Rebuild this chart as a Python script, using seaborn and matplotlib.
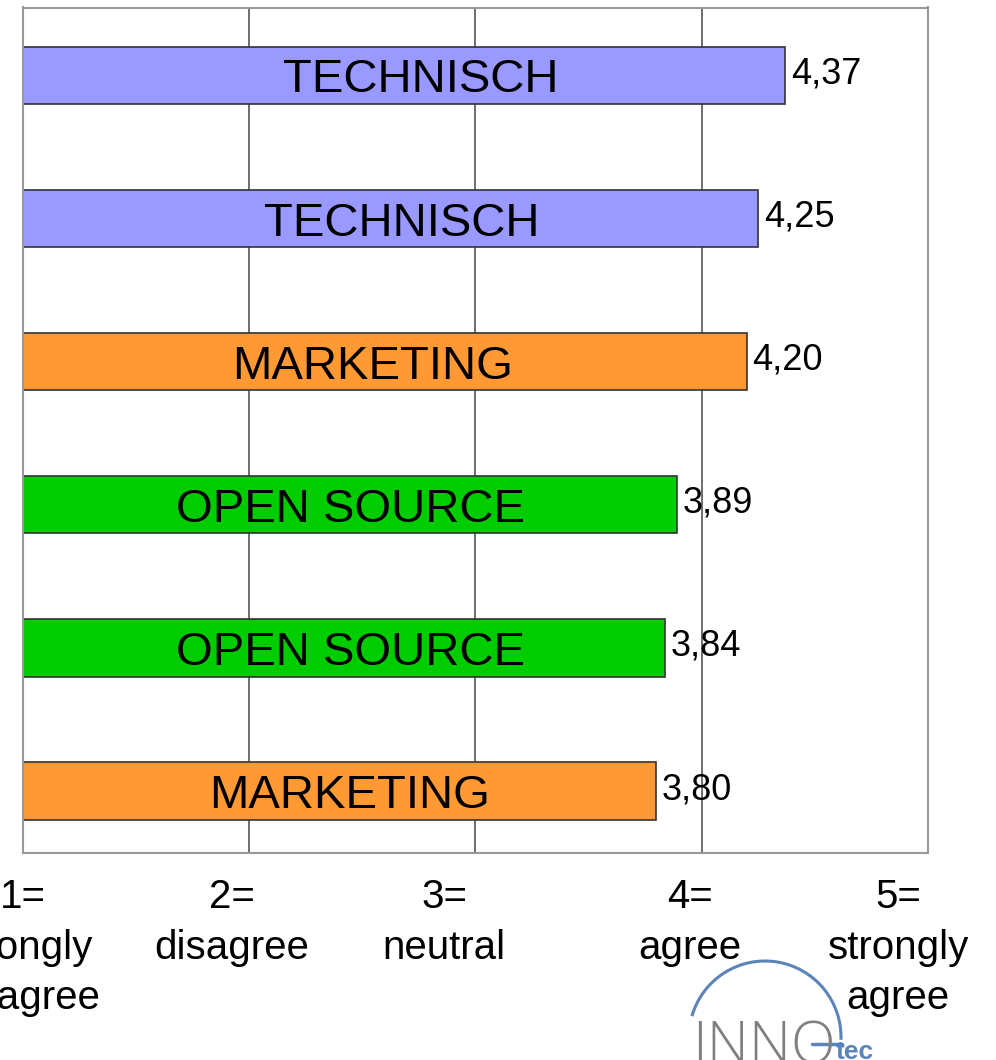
import matplotlib
matplotlib.use("Agg")
import matplotlib.pyplot as plt
from matplotlib.transforms import ScaledTranslation
from matplotlib.patches import Arc
from matplotlib.lines import Line2D
import seaborn as sns
import pandas as pd

# ---- data ----
rows = ["r1", "r2", "r3", "r4", "r5", "r6"]
bar_names = ["TECHNISCH", "TECHNISCH", "MARKETING", "OPEN SOURCE", "OPEN SOURCE", "MARKETING"]
values = [4.37, 4.25, 4.20, 3.89, 3.84, 3.80]
value_labels = ["4,37", "4,25", "4,20", "3,89", "3,84", "3,80"]
bar_colors = ["#9999FF", "#9999FF", "#FF9933", "#00CC00", "#00CC00", "#FF9933"]
name_x = [2.76, 2.674, 2.548, 2.451, 2.451, 2.444]
tick_values = [1, 2, 3, 4, 5]
tick_labels = ["1=\nstrongly\ndisagree", "2=\ndisagree", "3=\nneutral", "4=\nagree", "5=\nstrongly\nagree"]
tick_dx_px = [0, -17, -31, -12, -30]

df = pd.DataFrame({"row": rows, "value": values})

sns.set_theme(style="white")
plt.rcParams["font.family"] = ["Liberation Sans", "DejaVu Sans"]

fig = plt.figure(figsize=(9.96, 10.6), dpi=100)
ax = fig.add_axes([22.5 / 996, 1 - 853 / 1060, (928 - 22.5) / 996, (853 - 7.5) / 1060])

sns.barplot(data=df, x="value", y="row", hue="row", order=rows, hue_order=rows,
            palette=bar_colors, orient="h", width=0.4, legend=False,
            edgecolor="#333333", linewidth=1.2, saturation=1, ax=ax, zorder=2)

# bars start at the scale origin 1
for p in ax.patches:
    w = p.get_width()
    p.set_x(1)
    p.set_width(w - 1)

ax.set_xlim(1, 5)
ax.set_ylim(5.433, -0.475)

# grid
for gx in [2, 3, 4]:
    ax.axvline(gx, color="#555555", lw=1.2, zorder=1)

for s in ax.spines.values():
    s.set_color("#999999")
    s.set_linewidth(1.5)
    s.set_visible(True)

ax.set_xlabel("")
ax.set_ylabel("")
ax.set_yticks([])
ax.set_xticks(tick_values)
ax.set_xticklabels(tick_labels, fontsize=29, linespacing=1.42)
ax.tick_params(axis="x", length=0, pad=18, colors="black")
for lab, dx in zip(ax.get_xticklabels(), tick_dx_px):
    lab.set_transform(lab.get_transform() + ScaledTranslation(dx / 100, 0, fig.dpi_scale_trans))
    lab.set_clip_on(False)

# labels
for i, (nm, v, vl, nx) in enumerate(zip(bar_names, values, value_labels, name_x)):
    ax.text(nx, i + 0.035, nm, ha="center", va="center", fontsize=34, color="black", zorder=3)
    ax.text(v + 0.025, i - 0.01, vl, ha="left", va="center", fontsize=26, color="black", zorder=3)

# logo
fig.add_artist(Arc((765 / 996, 1 - 1037 / 1060), 2 * 76 / 996, 2 * 76 / 1060,
                   theta1=-2, theta2=165, transform=fig.transFigure,
                   color="#5b84b8", lw=2.2))
fig.text(692 / 996, 1 - 1018 / 1060, "INNO", fontsize=42, color="#808080",
         ha="left", va="top", fontweight=300, family=["Open Sans", "Lato", "DejaVu Sans"])
fig.add_artist(Line2D([812 / 996, 842 / 996], [1 - 1044 / 1060, 1 - 1044 / 1060],
                      transform=fig.transFigure, color="#5b84b8", lw=2.5))
fig.text(836 / 996, 1 - 1064 / 1060, "tec", fontsize=19, color="#5b84b8",
         ha="left", va="bottom", fontweight="bold")

fig.savefig("out.png", dpi=100)
